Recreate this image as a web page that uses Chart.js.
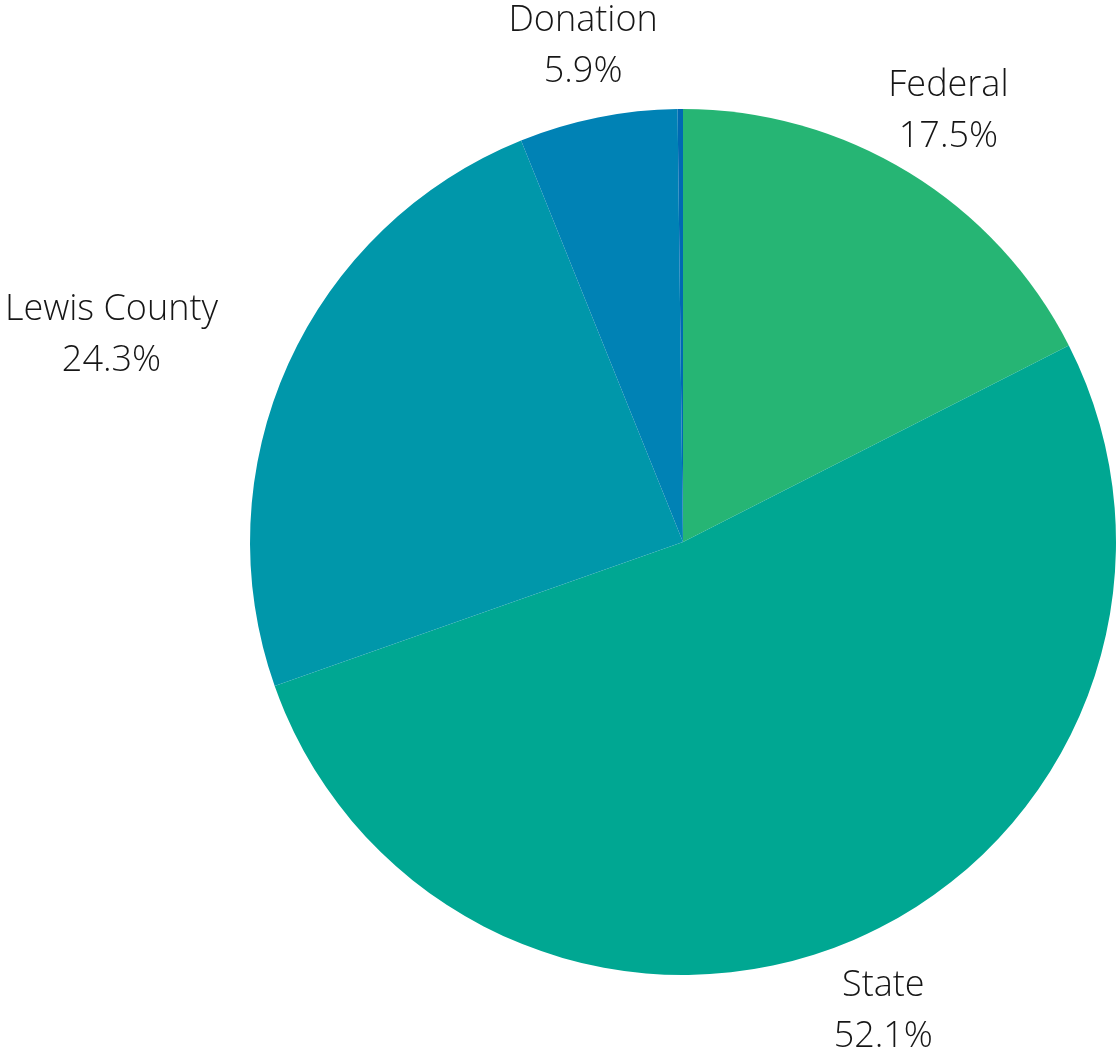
<!DOCTYPE html>
<html>
<head>
<meta charset="utf-8">
<script src="https://cdn.jsdelivr.net/npm/chart.js@4"></script>
<style>
  html, body { margin: 0; padding: 0; background: #fff; }
  #wrap { width: 1117px; height: 1053px; }
</style>
</head>
<body>
<div id="wrap"><canvas id="fundingChart" width="1117" height="1053"></canvas></div>
<script>
// Funding sources, clockwise from 12 o'clock
const labels = ['Federal', 'State', 'Lewis County', 'Donation', 'Other'];
const shares = [17.5, 52.1, 24.3, 5.9, 0.2];
const colors = ['#26b574', '#00a792', '#0097aa', '#0082b5', '#0069b3'];

// Draws "name / pct%" outside each slice, skipping the tiny ones
const outsideLabels = {
    id: 'outsideLabels',
    afterDatasetsDraw(chart) {
        const ctx = chart.ctx;
        const meta = chart.getDatasetMeta(0);
        ctx.save();
        ctx.font = '300 36px "Open Sans"';
        ctx.fillStyle = '#161616';
        ctx.textBaseline = 'middle';
        ctx.textAlign = 'center';
        meta.data.forEach((arc, i) => {
            if (shares[i] < 1) return;
            const lines = [labels[i], shares[i].toFixed(1) + '%'];
            const w = Math.max(...lines.map(t => ctx.measureText(t).width));
            const mid = (arc.startAngle + arc.endAngle) / 2;
            const r = arc.outerRadius + 75;
            let x = arc.x + Math.cos(mid) * r;
            const y = arc.y + Math.sin(mid) * r + 3;
            const c = Math.cos(mid);
            // side labels hang off the anchor, text block stays centred
            if (c < -0.8) x -= w / 2 + 2;
            else if (c > 0.8) x += w / 2 + 2;
            ctx.fillText(lines[0], x, y - 26);
            ctx.fillText(lines[1], x, y + 25);
        });
        ctx.restore();
    }
};

const ctx = document.getElementById('fundingChart').getContext('2d');
const chart = new Chart(ctx, {
    type: 'pie',
    data: {
        labels: labels,
        datasets: [{
            data: shares,
            backgroundColor: colors,
            borderWidth: 0
        }]
    },
    options: {
        responsive: false,
        animation: false,
        devicePixelRatio: 1,
        layout: {
            padding: { top: 109, bottom: 78, left: 250, right: 1 }
        },
        plugins: {
            legend: { display: false },
            tooltip: { enabled: false }
        }
    },
    plugins: [outsideLabels]
});
</script>
</body>
</html>
